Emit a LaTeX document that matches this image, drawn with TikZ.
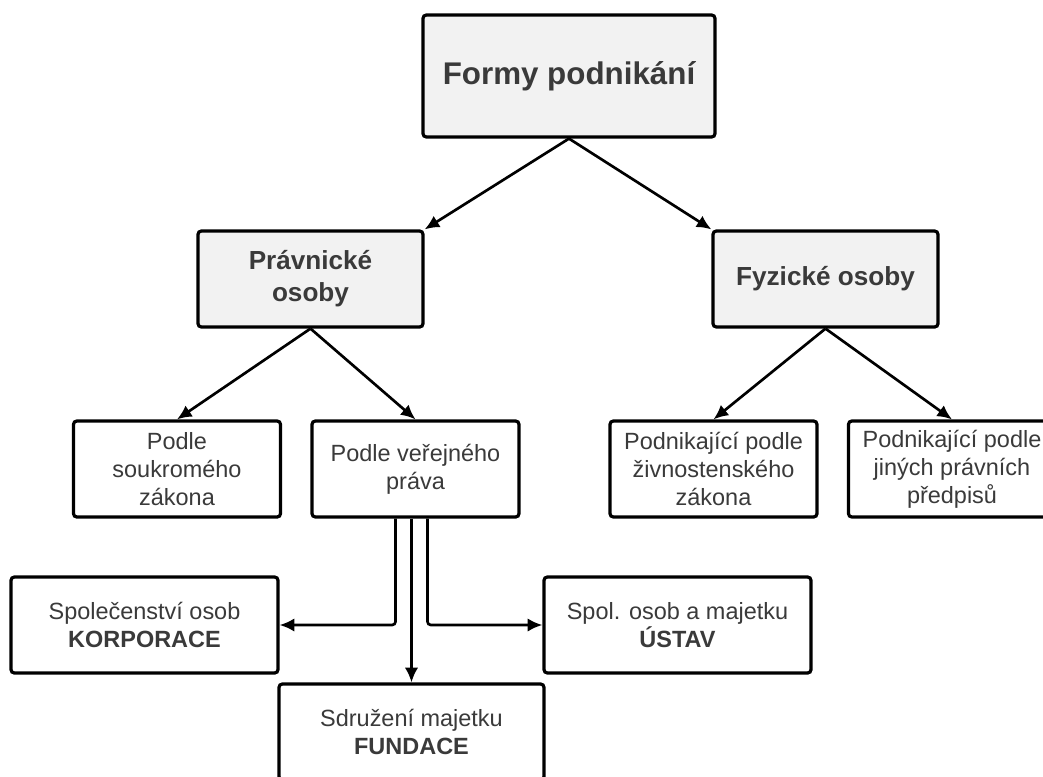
\documentclass[tikz,border=0pt]{standalone}
\usepackage{fontspec}
\setmainfont{Liberation Sans}
\usetikzlibrary{calc, positioning}
\usetikzlibrary{arrows.meta}
\definecolor{boxgray}{HTML}{F2F2F2}
\definecolor{txtgray}{HTML}{3A3A3A}

\begin{document}
\begin{tikzpicture}[x=0.75pt, y=-0.75pt,
  box/.style={draw=black, line width=2.4pt, rounded corners=2.5pt, align=center, text=txtgray, inner sep=0pt, minimum height=72pt, font=\fontsize{17.6pt}{21pt}\selectfont},
  headbox/.style={box, fill=boxgray, minimum width=168.75pt, font=\bfseries\fontsize{19.6pt}{24pt}\selectfont},
  conn/.style={line width=2pt, -{Latex[length=11pt, width=10pt]}, rounded corners=2.5pt}]
\path[fill=white, use as bounding box] (0,0) rectangle (1043,776);
% top level
\node[headbox, minimum width=219pt, minimum height=91.5pt, font=\bfseries\fontsize{23.5pt}{28pt}\selectfont] (formy) at (569,76) {Formy podnikání};
\node[headbox] (pravnicke) at (310.5,279) {Právnické\\osoby};
\node[headbox] (fyzicke) at (825.5,279) {Fyzické osoby};
% second level
\node[box, minimum width=155.25pt] (soukrome) at (177,469) {Podle\\soukromého\\zákona};
\node[box, minimum width=155.25pt] (verejne) at (415.5,469) {Podle veřejného\\práva};
\node[box, minimum width=155.25pt] (zivnost) at (713.5,469) {Podnikající podle\\živnostenského\\zákona};
\node[box, minimum width=155.25pt] (jine) at (952,469) {Podnikající podle\\jiných právních\\předpisů};
% third level
\node[box, minimum width=200.25pt] (korporace) at (144.5,625) {Společenství osob\\\textbf{KORPORACE}};
\node[box, minimum width=200.25pt] (ustav) at (677.5,625) {Spol. osob a majetku\\\textbf{ÚSTAV}};
\node[box, minimum width=198.75pt] (fundace) at (411.5,732) {Sdružení majetku\\\textbf{FUNDACE}};
% connectors
\draw[conn] (formy.south) -- (pravnicke.north east);
\draw[conn] (formy.south) -- (fyzicke.north west);
\draw[conn] (pravnicke.south) -- (soukrome.north);
\draw[conn] (pravnicke.south) -- (verejne.north);
\draw[conn] (fyzicke.south) -- (zivnost.north);
\draw[conn] (fyzicke.south) -- (jine.north);
\draw[conn] ($(verejne.south -| fundace.north)+(-16,0)$) |- (korporace.east);
\draw[conn] (verejne.south -| fundace.north) -- (fundace.north);
\draw[conn] ($(verejne.south -| fundace.north)+(16,0)$) |- (ustav.west);
\end{tikzpicture}
\end{document}
